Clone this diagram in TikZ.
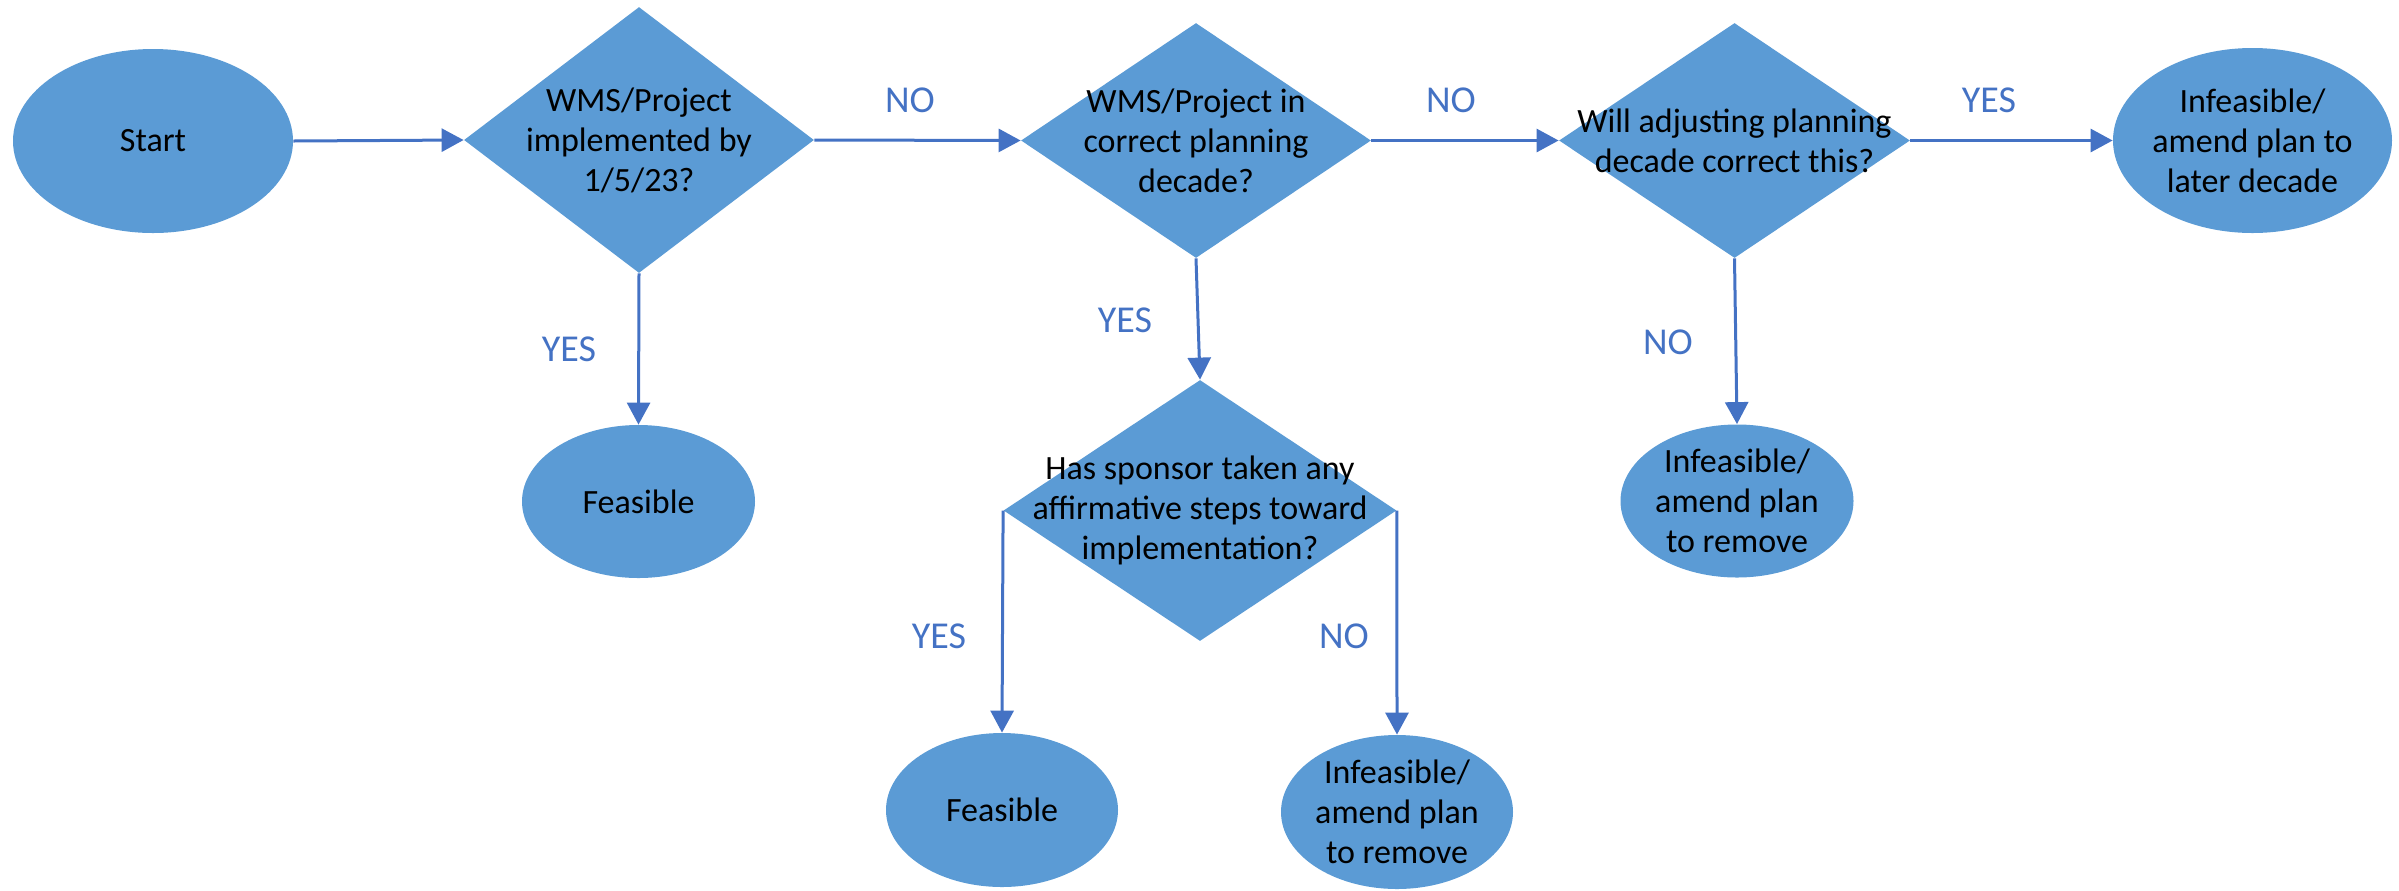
\documentclass[tikz,border=0pt]{standalone}
\usepackage{fontspec}
\setmainfont{Carlito}
\usetikzlibrary{shapes.geometric,arrows.meta}
\definecolor{shapefill}{HTML}{5B9BD5}
\definecolor{linkblue}{HTML}{4472C4}
\begin{document}
\begin{tikzpicture}[x=0.5pt,y=-0.5pt,
  oval/.style={ellipse, fill=shapefill, inner sep=0pt},
  decision/.style={diamond, fill=shapefill, inner sep=0pt},
  txt/.style={align=center, inner sep=0pt, font=\fontsize{17}{20}\selectfont, text=black},
  lbl/.style={font=\fontsize{19}{22}\selectfont, text=linkblue, inner sep=0pt},
  link/.style={draw=linkblue, line width=1.5pt, -{Triangle[width=11.5pt,length=11pt]}}]
\useasboundingbox (0,0) rectangle (2399,890);
% shapes
\node[oval, minimum width=140pt, minimum height=92pt] (start) at (153,141) {};
\node[decision, minimum width=175pt, minimum height=133pt] (d1) at (639,140) {};
\node[decision, minimum width=175pt, minimum height=117.5pt] (d2) at (1196,140.5) {};
\node[decision, minimum width=175.5pt, minimum height=117.5pt] (d3) at (1734.5,140.5) {};
\node[oval, minimum width=139.5pt, minimum height=92.5pt] (elater) at (2252.5,140.5) {};
\node[oval, minimum width=116.5pt, minimum height=76.5pt] (feas1) at (638.5,501.5) {};
\node[decision, minimum width=196.5pt, minimum height=130.5pt] (d4) at (1200,510.5) {};
\node[oval, minimum width=116.5pt, minimum height=76.5pt] (inf3) at (1737,501) {};
\node[oval, minimum width=116pt, minimum height=77pt] (feas2) at (1002,810) {};
\node[oval, minimum width=116pt, minimum height=77pt] (inf2) at (1397,812) {};
% texts
\node[txt] (startT) at (start) {Start};
\node[txt] (d1T) at (d1) {WMS/Project\\implemented by\\1/5/23?};
\node[txt] (d2T) at (d2) {WMS/Project in\\correct planning\\decade?};
\node[txt] (d3T) at (d3) {Will adjusting planning\\decade correct this?};
\node[txt] (elaterT) at (elater) {Infeasible/\\amend plan to\\later decade};
\node[txt] (feas1T) at (feas1) {Feasible};
\node[txt] (d4T) at (d4) {Has sponsor taken any\\affirmative steps toward\\implementation?};
\node[txt] (inf3T) at (inf3) {Infeasible/\\amend plan\\to remove};
\node[txt] (feas2T) at (feas2) {Feasible};
\node[txt] (inf2T) at (inf2) {Infeasible/\\amend plan\\to remove};
% connectors
\draw[link] (start.east) -- (d1.west);
\draw[link] (d1.east) -- (d2.west);
\draw[link] (d2.east) -- (d3.west);
\draw[link] (d3.east) -- (elater.west);
\draw[link] (d1.south) -- (feas1.north);
\draw[link] (d2.south) -- (d4.north);
\draw[link] (d3.south) -- (inf3.north);
\draw[link] (d4.west) -- (feas2.north);
\draw[link] (d4.east) -- (inf2.north);
% labels
\node[lbl] (l1) at (910,100) {NO};
\node[lbl] (l2) at (1451,100) {NO};
\node[lbl] (l3) at (1989,100) {YES};
\node[lbl] (l4) at (569,349.5) {YES};
\node[lbl] (l5) at (1125,320) {YES};
\node[lbl] (l6) at (1668,342) {NO};
\node[lbl] (l7) at (939,636) {YES};
\node[lbl] (l8) at (1344,636) {NO};
\end{tikzpicture}
\end{document}
